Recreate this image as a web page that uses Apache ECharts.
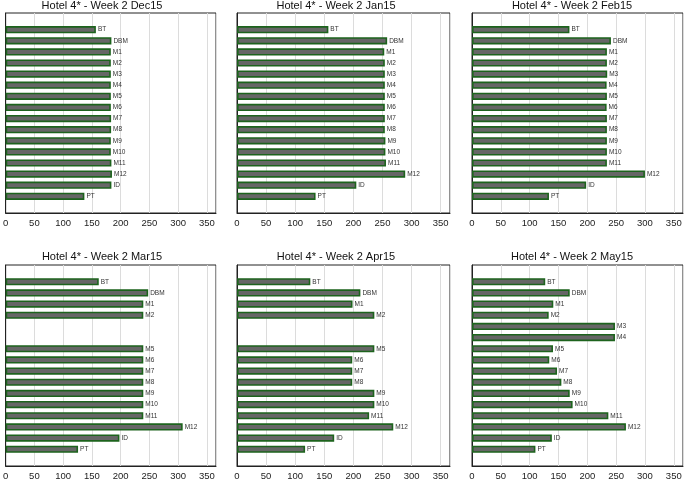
<!DOCTYPE html>
<html><head><meta charset="utf-8">
<script src="https://cdn.jsdelivr.net/npm/echarts@6/dist/echarts.min.js"></script>
<style>html,body{margin:0;padding:0;background:#fff}#c{width:685px;height:481px}</style>
</head><body><div id="c"></div>
<script>
const categories = ['BT','DBM','M1','M2','M3','M4','M5','M6','M7','M8','M9','M10','M11','M12','ID','PT'];
const titles = ['Hotel 4* - Week 2 Dec15','Hotel 4* - Week 2 Jan15','Hotel 4* - Week 2 Feb15',
                'Hotel 4* - Week 2 Mar15','Hotel 4* - Week 2 Apr15','Hotel 4* - Week 2 May15'];
const dec15 = [157, 184, 183, 183, 183, 183, 183, 183, 183.5, 183.5, 183, 183, 184, 185, 184, 137];
const jan15 = [157, 258, 253, 254, 254, 254, 254, 254, 254, 254, 255, 255, 256, 289, 205, 135];
const feb15 = [169, 241, 234, 234, 234.5, 233.5, 234, 233.5, 234, 234, 234, 234, 234, 300, 198, 133.5];
const mar15 = [162, 248, 239.5, 239.5, null, null, 239.5, 239.5, 239.5, 239.5, 239.5, 239.5, 239.5, 308, 198, 126];
const apr15 = [126, 212, 198.5, 236, null, null, 236, 198, 198, 198, 236, 236, 227, 268.5, 167, 117];
const may15 = [127, 169.5, 141, 133, 248, 248, 140.5, 134, 147.5, 155, 169.5, 174.5, 236.5, 267, 138.5, 110];
const xTicks = [0, 50, 100, 150, 200, 250, 300, 350];
const xMax = 366;

const seriesData = [dec15, jan15, feb15, mar15, apr15, may15];
const panels = [
  {left: 3, top: 13, width: 213, height: 200, tx: 102, ty: 0},
  {left: 237, top: 13, width: 213, height: 200, tx: 336, ty: 0},
  {left: 472, top: 13, width: 211, height: 200, tx: 572, ty: 0},
  {left: 3, top: 265, width: 213, height: 201, tx: 102, ty: 251},
  {left: 237, top: 265, width: 213, height: 201, tx: 336, ty: 251},
  {left: 472, top: 265, width: 211, height: 201, tx: 572, ty: 251}
];
// pad one empty slot above and below the categories
const padCats = [' '].concat(categories, ['  ']);
const FONT = 'Liberation Sans, Arial, Helvetica, sans-serif';

const option = {
  animation: false,
  backgroundColor: '#ffffff',
  title: [], grid: [], xAxis: [], yAxis: [], series: []
};
panels.forEach((p, i) => {
  option.title.push({
    text: titles[i], left: p.tx, top: p.ty, textAlign: 'center', padding: 0,
    textStyle: {fontFamily: FONT, fontSize: 11, fontWeight: 'normal', color: '#111', lineHeight: 12}
  });
  option.grid.push({
    left: p.left, top: p.top, width: p.width, height: p.height,
    show: true, borderColor: '#222', borderWidth: 1, backgroundColor: 'transparent'
  });
  option.xAxis.push({
    type: 'value', gridIndex: i, min: 0, max: xMax, interval: 50,
    axisLine: {show: true, lineStyle: {color: '#222', width: 1}},
    axisTick: {show: false},
    axisLabel: {
      show: true, showMaxLabel: false, margin: 5,
      fontFamily: FONT, fontSize: 9.5, color: '#222',
      formatter: v => (xTicks.indexOf(v) >= 0 ? String(v) : '')
    },
    splitLine: {show: true, lineStyle: {color: '#dcdcdc', width: 1}}
  });
  option.yAxis.push({
    type: 'category', gridIndex: i, data: padCats, inverse: true,
    axisLine: {show: true, lineStyle: {color: '#222', width: 1}},
    axisTick: {show: false}, axisLabel: {show: false}, splitLine: {show: false}
  });
  option.series.push({
    type: 'bar', xAxisIndex: i, yAxisIndex: i,
    data: [null].concat(seriesData[i].map((v, k) => v == null ? null : {value: v, name: categories[k]}), [null]),
    barWidth: 7.2,
    itemStyle: {color: '#666666', borderColor: '#1d631d', borderWidth: 1.6},
    label: {
      show: true, position: 'right', distance: 2,
      fontFamily: FONT, fontSize: 6.5, color: '#333',
      formatter: prm => categories[prm.dataIndex - 1]
    }
  });
});
const chart = echarts.init(document.getElementById('c'), null, {renderer: 'canvas'});
chart.setOption(option);
</script>
</body></html>
